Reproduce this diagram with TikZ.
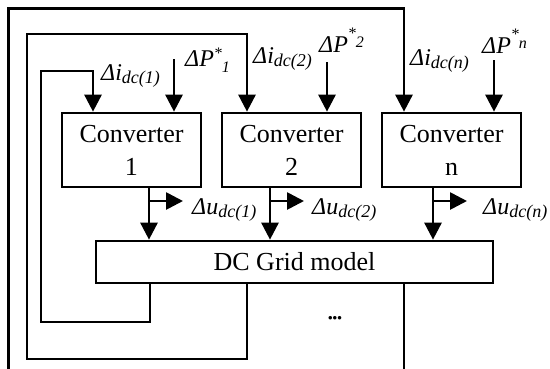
\documentclass[tikz,border=0pt]{standalone}
\usepackage{fontspec}
\setmainfont{Liberation Serif}
\usetikzlibrary{arrows.meta}
\newcommand\sbx[2]{\raisebox{#1}{\fontsize{18}{18}\selectfont #2}}
\newcommand\stx[1]{\raisebox{#1}{\fontsize{16}{16}\selectfont *}}
\newcommand\idx[2]{\raisebox{#1}{\fontsize{16}{16}\selectfont #2}}
\begin{document}
\begin{tikzpicture}[x=1pt,y=-1pt,
  wire/.style={line width=2.7pt},
  arr/.style={wire,-{Triangle[length=17pt,width=17pt]}},
  conv/.style={draw,line width=2.7pt,minimum width=139pt,minimum height=74pt,inner sep=0pt,align=center,font=\fontsize{26}{33}\selectfont},
  gridbox/.style={draw,line width=2.7pt,minimum width=397pt,minimum height=42pt,inner sep=0pt,font=\fontsize{26}{30}\selectfont},
  lab/.style={anchor=base west,inner sep=0pt,font=\fontsize{24}{24}\selectfont\itshape}]
\clip (0,0) rectangle (550,368);
\fill[white] (0,0) rectangle (550,368);
% blocks
\node[conv] (c1) at (131.5,150) {Converter\\1};
\node[conv] (c2) at (291.5,150) {Converter\\2};
\node[conv] (cn) at (451.5,150) {Converter\\n};
\node[gridbox] (grid) at (294.5,262) {DC Grid model};
% feedback loop corners
\coordinate (p1) at (150,322); \coordinate (p2) at (41,71); \coordinate (p3) at (93,71);
\coordinate (q1) at (247,359); \coordinate (q2) at (27,34); \coordinate (q3) at (247,34);
\coordinate (r1) at (404,380); \coordinate (r2) at (8.5,8.5); \coordinate (r3) at (404,8.5);
\draw[arr] (grid.south -| p1) -- (p1) -| (p2) -- (p3) -- (c1.north -| p3);
\draw[arr] (grid.south -| q1) -- (q1) -| (q2) -- (q3) -- (c2.north -| q3);
\draw[arr] (grid.south -| r1) -- (r1) -| (r2) -- (r3) -- (cn.north -| r3);
% power references
\coordinate (s1) at (174,59); \coordinate (s2) at (327,62); \coordinate (s3) at (494,60);
\draw[arr] (s1) -- (c1.north -| s1);
\draw[arr] (s2) -- (c2.north -| s2);
\draw[arr] (s3) -- (cn.north -| s3);
% voltage outputs
\coordinate (u1) at (149,201); \coordinate (u2) at (270,201); \coordinate (u3) at (433,201);
\draw[arr] (c1.south -| u1) -- (grid.north -| u1);
\draw[arr] (c2.south -| u2) -- (grid.north -| u2);
\draw[arr] (cn.south -| u3) -- (grid.north -| u3);
\draw[arr] (u1) -- ++(34,0);
\draw[arr] (u2) -- ++(34,0);
\draw[arr] (u3) -- ++(34,0);
% labels
\node[lab] (li1) at (101,80) {Δi\sbx{-3pt}{dc(1)}};
\node[lab] (lp1) at (185,66) {ΔP\stx{8pt}\idx{-6pt}{1}};
\node[lab] (li2) at (253,63) {Δi\sbx{-3pt}{dc(2)}};
\node[lab] (lp2) at (319,52) {ΔP\stx{14pt}\idx{5pt}{2}};
\node[lab] (lin) at (410,65) {Δi\sbx{-3pt}{dc(n)}};
\node[lab] (lpn) at (482,53) {ΔP\stx{14pt}\idx{5pt}{n}};
\node[lab] (lu1) at (192,214) {Δu\sbx{-3pt}{dc(1)}};
\node[lab] (lu2) at (312,214) {Δu\sbx{-3pt}{dc(2)}};
\node[lab] (lun) at (483,214) {Δu\sbx{-3pt}{dc(n)}};
\node[inner sep=0pt,font=\fontsize{13}{13}\selectfont\bfseries] (dots) at (335,319) {•••};
\end{tikzpicture}
\end{document}
